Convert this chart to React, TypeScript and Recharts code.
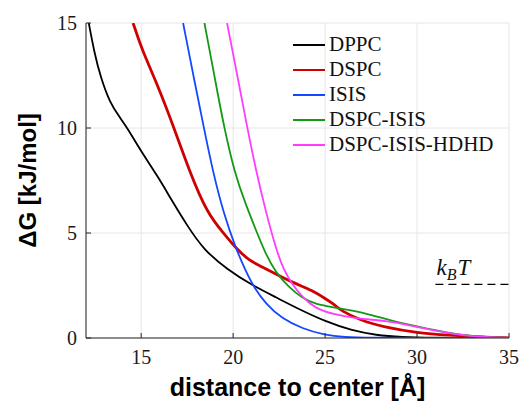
import React from "react";
import { LineChart, Line, XAxis, YAxis, CartesianGrid, Legend, ReferenceLine } from "recharts";

// free energy profiles (x in Å, y in kJ/mol)
const dppcX = [12.15, 12.45, 12.8, 13.3, 13.8, 14.25, 14.95, 15.9, 16.6, 17.5, 18.4, 19.67, 21.03, 22.3, 23.7, 25.05, 26.4, 27.8, 29.1, 31, 33, 35];
const dppcY = [15, 13.6, 12.4, 11.2, 10.55, 10.0, 8.95, 7.7, 6.65, 5.35, 4.2, 3.27, 2.51, 1.95, 1.32, 0.78, 0.37, 0.13, 0.04, 0.01, 0, 0];

const dspcX = [14.56, 15.05, 15.87, 16.77, 17.6, 18.6, 19.58, 20.13, 20.85, 21.58, 22.48, 23.39, 24.29, 25.0, 25.56, 25.83, 26.92, 28.18, 30, 31.8, 33.5, 35];
const dspcY = [15, 13.7, 12.1, 10.05, 8.0, 5.9, 4.89, 4.3, 3.7, 3.38, 2.98, 2.59, 2.27, 1.88, 1.56, 1.32, 0.84, 0.52, 0.24, 0.13, 0.04, 0.01];

const isisX = [17.28, 17.86, 18.4, 18.93, 19.49, 20.13, 20.67, 21.12, 21.76, 22.66, 23.75, 25, 26, 27.5, 30, 35];
const isisY = [15, 12.4, 10.05, 7.8, 5.92, 4.3, 3.22, 2.43, 1.64, 0.92, 0.45, 0.13, 0.04, 0.01, 0, 0];

const dspcIsisX = [18.44, 19.0, 19.5, 20.1, 20.67, 21.21, 21.76, 22.3, 23.02, 23.75, 24.5, 25.56, 26.5, 27.28, 28.55, 30, 31.8, 33.3, 35];
const dspcIsisY = [15, 12.4, 10.05, 7.8, 6.4, 5.2, 4.02, 3.14, 2.43, 1.9, 1.6, 1.45, 1.3, 1.16, 0.84, 0.55, 0.22, 0.05, 0.01];

const hdhdX = [19.67, 20.25, 20.76, 21.25, 21.76, 22.3, 22.75, 23.2, 23.75, 24.47, 25.5, 26.74, 28.4, 30, 31.8, 33.3, 35];
const hdhdY = [15, 12.4, 10.05, 7.95, 6.08, 4.33, 3.22, 2.59, 1.95, 1.4, 1.12, 0.92, 0.82, 0.52, 0.21, 0.04, 0.01];

const xTicks = [15, 20, 25, 30, 35];
const yTicks = [0, 5, 10, 15];
const kbt = 2.55;
const kbtFrom = 31;

const zip = (xs: number[], ys: number[]) => xs.map((x, i) => ({ x, y: ys[i] }));

const series = [
  { name: "DPPC", color: "#000000", width: 1.8, data: zip(dppcX, dppcY) },
  { name: "DSPC", color: "#d00000", width: 2.8, data: zip(dspcX, dspcY) },
  { name: "ISIS", color: "#1448ff", width: 1.8, data: zip(isisX, isisY) },
  { name: "DSPC-ISIS", color: "#139a13", width: 1.8, data: zip(dspcIsisX, dspcIsisY) },
  { name: "DSPC-ISIS-HDHD", color: "#ff3cff", width: 1.8, data: zip(hdhdX, hdhdY) },
];

const AXIS = "#262626";
const SERIF = "'Liberation Serif', 'DejaVu Serif', serif";
const SANS = "'Liberation Sans', Arial, sans-serif";

const BottomTick = (p: any) => (
  <g>
    <line x1={p.x} x2={p.x} y1={p.y} y2={p.y - 5} stroke={AXIS} />
    <text x={p.x} y={p.y + 26} textAnchor="middle" fontFamily={SERIF} fontSize={20} fill="#1a1a1a">
      {p.payload.value}
    </text>
  </g>
);

const LeftTick = (p: any) => (
  <g>
    <line x1={p.x} x2={p.x + 5} y1={p.y} y2={p.y} stroke={AXIS} />
    <text x={p.x - 9} y={p.y} dy="0.34em" textAnchor="end" fontFamily={SERIF} fontSize={20} fill="#1a1a1a">
      {p.payload.value}
    </text>
  </g>
);

const TopTick = (p: any) => <line x1={p.x} x2={p.x} y1={p.y} y2={p.y + 5} stroke={AXIS} />;
const RightTick = (p: any) => <line x1={p.x} x2={p.x - 5} y1={p.y} y2={p.y} stroke={AXIS} />;

// legend drawn from the series list so order and colours stay as in the figure
const LegendBox = () => (
  <div style={{ fontFamily: SERIF, fontSize: 21, color: "#111" }}>
    {series.map((s) => (
      <div key={s.name} style={{ display: "flex", alignItems: "center", height: 25 }}>
        <span style={{ display: "inline-block", width: 32, borderTop: `2px solid ${s.color}` }} />
        <span style={{ marginLeft: 4, lineHeight: "25px", whiteSpace: "nowrap" }}>{s.name}</span>
      </div>
    ))}
  </div>
);

const KbtLabel = (p: any) => {
  const vb = p.viewBox || {};
  return (
    <text x={vb.x + 1} y={vb.y - 9} fontFamily={SERIF} fontStyle="italic" fontSize={23} fill="#111">
      <tspan>k</tspan>
      <tspan fontSize={16} dy={5}>B</tspan>
      <tspan dy={-5} dx={1}>T</tspan>
    </text>
  );
};

export default function App() {
  return (
    <div style={{ position: "absolute", left: 0, top: 0, background: "#fff" }}>
      <LineChart width={521} height={402} margin={{ top: 23, right: 12, bottom: 0, left: 0 }}>
        <CartesianGrid stroke="#e6e6e6" horizontal vertical />
        <XAxis
          type="number"
          dataKey="x"
          domain={[12, 35]}
          ticks={xTicks}
          interval={0}
          height={64}
          tickSize={0}
          tickMargin={0}
          tickLine={false}
          tick={<BottomTick />}
          axisLine={{ stroke: AXIS }}
          allowDataOverflow
          label={{ value: "distance to center [Å]", position: "insideBottom", offset: 6, fontFamily: SANS, fontWeight: "bold", fontSize: 25, fill: "#000" }}
        />
        <XAxis
          xAxisId="top"
          orientation="top"
          type="number"
          dataKey="x"
          domain={[12, 35]}
          ticks={xTicks}
          interval={0}
          height={0}
          tickSize={0}
          tickMargin={0}
          tickLine={false}
          tick={<TopTick />}
          axisLine={{ stroke: AXIS }}
          allowDataOverflow
        />
        <YAxis
          type="number"
          domain={[0, 15]}
          ticks={yTicks}
          interval={0}
          width={86}
          tickSize={0}
          tickMargin={0}
          tickLine={false}
          tick={<LeftTick />}
          axisLine={{ stroke: AXIS }}
          allowDataOverflow
          label={{ value: "ΔG [kJ/mol]", angle: -90, position: "insideLeft", offset: 27, style: { textAnchor: "middle" }, fontFamily: SANS, fontWeight: "bold", fontSize: 24, fill: "#000" }}
        />
        <YAxis
          yAxisId="right"
          orientation="right"
          type="number"
          domain={[0, 15]}
          ticks={yTicks}
          interval={0}
          width={0}
          tickSize={0}
          tickMargin={0}
          tickLine={false}
          tick={<RightTick />}
          axisLine={{ stroke: AXIS }}
          allowDataOverflow
        />
        <Legend
          layout="horizontal"
          verticalAlign="middle"
          align="center"
          content={<LegendBox />}
          wrapperStyle={{ position: "absolute", top: 32, left: 293, width: 220 }}
        />
        <ReferenceLine
          segment={[{ x: kbtFrom, y: kbt }, { x: 35, y: kbt }]}
          stroke="#000"
          strokeWidth={1.3}
          strokeDasharray="8 5"
          label={<KbtLabel />}
        />
        {series.map((s) => (
          <Line
            key={s.name}
            name={s.name}
            data={s.data}
            dataKey="y"
            type="basis"
            stroke={s.color}
            strokeWidth={s.width}
            dot={false}
            activeDot={false}
            isAnimationActive={false}
          />
        ))}
      </LineChart>
    </div>
  );
}
